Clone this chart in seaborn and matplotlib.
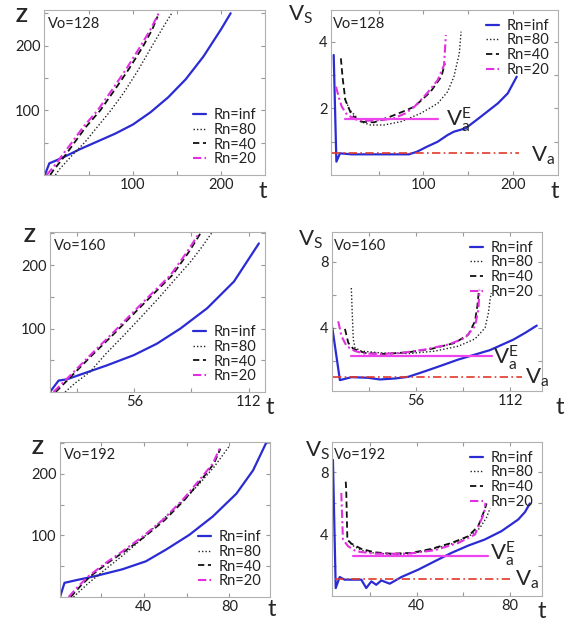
import numpy as np
import pandas as pd
import matplotlib
matplotlib.use("Agg")
import matplotlib.pyplot as plt
import seaborn as sns

# ---- Vo=128 : z(t)
z128_t_inf = [0, 5, 12, 25, 40, 60, 80, 100, 120, 140, 160, 180, 200, 211]
z128_z_inf = [0, 18, 22, 30, 40, 52, 64, 78, 97, 120, 148, 183, 225, 250]
z128_t_80 = [12, 16, 22, 32, 45, 60, 75, 90, 105, 122, 135, 145]
z128_z_80 = [0, 8, 17, 32, 50, 75, 100, 128, 160, 200, 230, 252]
z128_t_40 = [6, 10, 16, 24, 33, 47, 63, 80, 96, 112, 122, 128]
z128_z_40 = [0, 8, 18, 32, 49, 75, 100, 133, 165, 200, 225, 245]
z128_t_20 = [2, 7, 13, 21, 30, 44, 60, 77, 93, 109, 120, 130]
z128_z_20 = [0, 8, 18, 33, 49, 75, 100, 133, 165, 200, 225, 252]

# ---- Vo=128 : Vs(t)
v128_t_inf = [0, 3, 7, 20, 40, 60, 84, 93, 104, 116, 127, 134, 147, 164, 183, 194, 204]
v128_v_inf = [3.6, 0.4, 0.65, 0.62, 0.62, 0.62, 0.62, 0.7, 0.85, 1.0, 1.2, 1.3, 1.4, 1.75, 2.15, 2.45, 2.95]
v128_t_80 = [12, 18, 30, 41, 56, 75, 97, 116, 127, 134, 140, 142]
v128_v_80 = [2.3, 1.95, 1.6, 1.5, 1.5, 1.6, 1.85, 2.15, 2.5, 2.95, 3.65, 4.3]
v128_t_40 = [8, 10, 13, 20, 30, 45, 63, 77, 90, 108, 120, 124]
v128_v_40 = [3.5, 2.9, 2.25, 1.8, 1.6, 1.58, 1.75, 1.9, 2.05, 2.5, 2.95, 3.35]
v128_t_20 = [2.6, 6, 9, 15, 26, 40, 55, 67, 80, 90, 104, 116, 123, 125]
v128_v_20 = [2.65, 2.3, 2.05, 1.8, 1.65, 1.63, 1.65, 1.7, 1.85, 2.05, 2.45, 2.85, 3.3, 4.2]
v128_vae_t = [13, 116]
v128_vae = [1.68, 1.68]
v128_va_t = [-2, 207]
v128_va = [0.67, 0.67]

# ---- Vo=160 : z(t)
z160_t_inf = [14.7, 18.9, 23, 31, 42.6, 55.7, 67, 78.6, 91.7, 104.8, 117]
z160_z_inf = [0, 18, 20, 29, 42, 58, 76, 100, 132, 174, 234]
z160_t_80 = [22.1, 27, 34.4, 42, 50.8, 59, 67.1, 75, 83.5, 89, 94.2]
z160_z_80 = [0, 14, 32, 60, 89, 117, 145, 174, 205, 228, 252]
z160_t_40 = [17.5, 25.5, 35.3, 45.2, 55, 64.9, 74.6, 82.8, 88.6]
z160_z_40 = [0, 26, 58, 89, 121, 153, 184, 221, 251]
z160_t_20 = [16.4, 24.6, 34.4, 44.2, 54, 63.9, 73.7, 81.9, 88.1]
z160_z_20 = [0, 26, 58, 89, 121, 153, 184, 221, 252]

# ---- Vo=160 : Vs(t)
v160_t_inf = [6.2, 10.7, 17.7, 27.6, 34.5, 43.5, 51.4, 61.4, 71.3, 81.2, 91.1, 100, 107, 114, 121, 127.9]
v160_v_inf = [3.98, 0.81, 0.99, 0.95, 0.85, 0.91, 1.01, 1.35, 1.70, 2.06, 2.36, 2.63, 2.95, 3.27, 3.68, 4.12]
v160_t_80 = [17.5, 18, 18.7, 19.7, 23.6, 35.5, 51.4, 67.3, 81.2, 91.1, 97.1, 99.1, 100.1, 100.8]
v160_v_80 = [6.4, 5.0, 3.27, 2.77, 2.57, 2.46, 2.42, 2.57, 2.87, 3.31, 3.98, 4.89, 5.7, 6.1]
v160_t_40 = [13.7, 15.7, 18.7, 25.6, 37.5, 51.4, 65.3, 79.2, 87.2, 91.1, 92.5, 93.3]
v160_v_40 = [3.92, 3.07, 2.71, 2.46, 2.4, 2.5, 2.71, 3.07, 3.58, 4.38, 5.29, 6.1]
v160_t_20 = [9.7, 11.7, 14.7, 19.7, 25.6, 35.5, 47.5, 61.4, 75.3, 85.2, 91.1, 93.1, 93.8]
v160_v_20 = [4.38, 3.47, 2.87, 2.57, 2.42, 2.4, 2.46, 2.67, 2.97, 3.37, 4.08, 5.09, 6.3]
v160_vae_t = [17.3, 101]
v160_vae = [2.26, 2.26]
v160_va_t = [6.8, 119]
v160_va = [1.01, 1.01]

# ---- Vo=192 : z(t)
z192_t_inf = [0.9, 3, 8, 17.4, 30, 41, 50.4, 61.3, 72.3, 83.3, 91.1, 97.4]
z192_z_inf = [0, 23, 27, 34, 45, 58, 77, 101, 131, 168, 206, 252]
z192_t_80 = [7.2, 14, 22.1, 30, 37.8, 45.5, 53.5, 60, 66, 73, 79.7]
z192_z_80 = [0, 22, 45, 67, 90, 115, 141, 162, 184, 212, 244]
z192_t_40 = [5.9, 10.5, 15.2, 23, 31, 40.4, 49.8, 59.1, 66.8, 72.8, 75.8]
z192_z_40 = [0, 18, 34, 55, 74, 98, 125, 158, 190, 217, 241]
z192_t_20 = [4.9, 9.6, 14.3, 22.1, 30, 39.4, 48.8, 58.2, 66, 72.3, 75.8]
z192_z_20 = [0, 18, 34, 55, 74, 98, 125, 158, 190, 217, 244]

# ---- Vo=192 : Vs(t)
v192_t_inf = [4, 5.2, 6.9, 9, 16.2, 18.3, 20.5, 22.6, 24.8, 28.4, 33.4, 40.6, 47.7, 54.9, 62.1, 69.2, 76.4, 83.6, 86.5, 88.6]
v192_v_inf = [8.8, 0.56, 1.27, 1.1, 1.1, 0.56, 0.99, 0.77, 1.05, 0.84, 1.27, 1.74, 2.28, 2.82, 3.29, 3.68, 4.22, 4.97, 5.45, 6.0]
v192_t_80 = [10.5, 12.5, 16, 22, 30, 38, 46, 55, 62, 67, 70, 71.5]
v192_v_80 = [3.6, 3.3, 3.0, 2.8, 2.72, 2.78, 3.02, 3.4, 3.85, 4.4, 5.1, 5.7]
v192_t_40 = [9.5, 9.7, 10.2, 11.9, 16.2, 21.9, 29.1, 37.7, 46.3, 54.9, 62.1, 66.4, 69.2, 70]
v192_v_40 = [7.4, 6.9, 3.68, 3.42, 3.08, 2.86, 2.77, 2.82, 3.08, 3.46, 3.89, 4.54, 5.61, 6.0]
v192_t_20 = [7.6, 8.3, 10.5, 14, 21.9, 36.3, 47.7, 57.8, 65, 69, 69.5]
v192_v_20 = [6.67, 3.68, 3.25, 2.92, 2.77, 2.77, 2.99, 3.46, 4.0, 5.4, 6.04]
v192_vae_t = [12.6, 70.7]
v192_vae = [2.6, 2.6]
v192_va_t = [4.7, 81.4]
v192_va = [1.12, 1.12]

labels = ["Rn=inf", "Rn=80", "Rn=40", "Rn=20"]

sns.set_style("ticks")
plt.rcParams["font.family"] = ["Lato", "DejaVu Sans"]
plt.rcParams["mathtext.default"] = "regular"

BLUE = "#2b2bd4"
MAG = "#e030e0"
RED = "#e03a2a"
TXT = "#222222"
FS = 10.5
line_kw = [
    dict(color=BLUE, lw=1.6, linestyle="-"),
    dict(color="#222222", lw=1.0, linestyle=(0, (1, 1.5))),
    dict(color="#111111", lw=1.3, linestyle=(0, (3.5, 2))),
    dict(color=MAG, lw=1.5, linestyle=(0, (4, 1.5, 1, 1.5))),
]

W, H = 567, 625
fig = plt.figure(figsize=(W / 100, H / 100), dpi=100)


def add_ax(l, t, r, b):
    return fig.add_axes([l / W, 1 - b / H, (r - l) / W, (b - t) / H])


def style(ax, xt, xl, yt, yl, xlim, ylim):
    ax.set_xlim(*xlim)
    ax.set_ylim(*ylim)
    ax.set_xticks(xt)
    ax.set_xticklabels(xl)
    ax.set_yticks(yt)
    ax.set_yticklabels(yl)
    ax.set_xlabel("")
    ax.set_ylabel("")
    ax.tick_params(direction="in", length=3, width=0.8, color="#999999",
                   labelsize=FS, labelcolor=TXT, top=True, right=True, pad=2.5)
    for s in ax.spines.values():
        s.set_color("#b0b0b0")
        s.set_linewidth(0.8)


def draw_curves(ax, ts, ys):
    for t, y, lab, kw in zip(ts, ys, labels, line_kw):
        sns.lineplot(x=t, y=y, ax=ax, sort=False, estimator=None, label=lab, **kw)


def legend(ax, loc):
    lg = ax.legend(loc=loc, frameon=False, fontsize=FS, handlelength=0.9,
                   handletextpad=0.5, labelspacing=0.05, borderaxespad=0.2)
    for tx in lg.get_texts():
        tx.set_color(TXT)


def hlines(ax, vae_t, vae, va_t, va):
    sns.lineplot(x=vae_t, y=vae, ax=ax, color="#ee44ee", lw=1.6, legend=False)
    sns.lineplot(x=va_t, y=va, ax=ax, color=RED, lw=1.2,
                 linestyle=(0, (5, 2, 1, 2)), legend=False)


def vo(ax, x, s):
    ax.text(x, 0.915, s, transform=ax.transAxes, fontsize=FS, color=TXT, va="center")


# top row
ax1 = add_ax(44, 10, 265, 175)
draw_curves(ax1, [z128_t_inf, z128_t_80, z128_t_40, z128_t_20],
            [z128_z_inf, z128_z_80, z128_z_40, z128_z_20])
style(ax1, [50, 100, 150, 200], ["", "100", "", "200"],
      [50, 100, 150, 200, 250], ["", "100", "", "200", ""], (-1, 250), (0, 255))
legend(ax1, "lower right")
vo(ax1, 0.02, "Vo=128")

ax2 = add_ax(331, 10, 558, 175)
draw_curves(ax2, [v128_t_inf, v128_t_80, v128_t_40, v128_t_20],
            [v128_v_inf, v128_v_80, v128_v_40, v128_v_20])
hlines(ax2, v128_vae_t, v128_vae, v128_va_t, v128_va)
style(ax2, [50, 100, 150, 200], ["", "100", "", "200"],
      [1, 2, 3, 4], ["", "2", "", "4"], (-3, 250), (0, 4.95))
legend(ax2, "upper right")
vo(ax2, 0.01, "Vo=128")
ax2.text(125, 1.65, "$V_a^E$", fontsize=16, va="center")
ax2.text(220, 0.58, "$V_a$", fontsize=16, va="center")

# middle row
ax3 = add_ax(50, 232, 265, 392)
draw_curves(ax3, [z160_t_inf, z160_t_80, z160_t_40, z160_t_20],
            [z160_z_inf, z160_z_80, z160_z_40, z160_z_20])
style(ax3, [28, 56, 84, 112], ["", "56", "", "112"],
      [50, 100, 150, 200, 250], ["", "100", "", "200", ""], (14.7, 120), (0, 252))
legend(ax3, "lower right")
vo(ax3, 0.02, "Vo=160")

ax4 = add_ax(332, 232, 542, 391)
draw_curves(ax4, [v160_t_inf, v160_t_80, v160_t_40, v160_t_20],
            [v160_v_inf, v160_v_80, v160_v_40, v160_v_20])
hlines(ax4, v160_vae_t, v160_vae, v160_va_t, v160_va)
style(ax4, [28, 56, 84, 112], ["", "56", "", "112"],
      [2, 4, 6, 8], ["", "4", "", "8"], (6, 131), (0.15, 9.8))
legend(ax4, "upper right")
vo(ax4, 0.01, "Vo=160")
ax4.text(102, 2.16, "$V_a^E$", fontsize=16, va="center")
ax4.text(121, 0.95, "$V_a$", fontsize=16, va="center")

# bottom row
ax5 = add_ax(60, 442, 270, 597)
draw_curves(ax5, [z192_t_inf, z192_t_80, z192_t_40, z192_t_20],
            [z192_z_inf, z192_z_80, z192_z_40, z192_z_20])
style(ax5, [20, 40, 60, 80], ["", "40", "", "80"],
      [50, 100, 150, 200, 250], ["", "100", "", "200", ""], (0.9, 99), (0, 252))
legend(ax5, "lower right")
vo(ax5, 0.02, "Vo=192")

ax6 = add_ax(332, 442, 542, 596)
draw_curves(ax6, [v192_t_inf, v192_t_80, v192_t_40, v192_t_20],
            [v192_v_inf, v192_v_80, v192_v_40, v192_v_20])
hlines(ax6, v192_vae_t, v192_vae, v192_va_t, v192_va)
style(ax6, [20, 40, 60, 80], ["", "40", "", "80"],
      [2, 4, 6, 8], ["", "4", "", "8"], (3.6, 93.8), (0.05, 9.95))
legend(ax6, "upper right")
vo(ax6, 0.01, "Vo=192")
ax6.text(71.4, 2.77, "$V_a^E$", fontsize=16, va="center")
ax6.text(82, 1.1, "$V_a$", fontsize=16, va="center")

# axis names placed like the original panels
for x, y in [(22, 16), (29, 237), (38, 448)]:
    fig.text(x / W, 1 - y / H, "Z", fontsize=14, ha="center", va="center", fontweight="bold")
for x, y in [(301, 15), (311, 240), (318, 451)]:
    fig.text(x / W, 1 - y / H, "$V_S$", fontsize=16, ha="center", va="center")
for x, y in [(263, 192), (555, 192), (270, 407), (560, 407), (272, 610), (542, 612)]:
    fig.text(x / W, 1 - y / H, "t", fontsize=17, ha="center", va="center")

fig.savefig("out.png", dpi=100)
